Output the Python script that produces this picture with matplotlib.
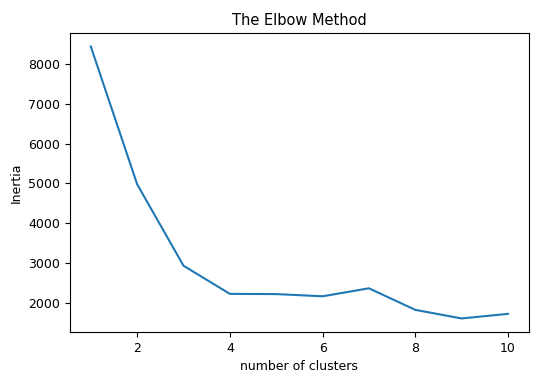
import matplotlib
matplotlib.use('Agg')
import matplotlib.pyplot as plt

# number of clusters and inertia values
clusters = [1, 2, 3, 4, 5, 6, 7, 8, 9, 10]
inertia = [8430, 4980, 2940, 2235, 2230, 2175, 2375, 1835, 1620, 1735]

fig = plt.figure(figsize=(5.38, 3.87), dpi=100)
ax = fig.add_axes([0.130, 0.142, 0.853, 0.773])
ax.plot(clusters, inertia, color='#1f77b4', linewidth=1.5)
ax.set_title('The Elbow Method', fontsize=10.5)
ax.set_xlabel('number of clusters', fontsize=9)
ax.set_ylabel('Inertia', fontsize=9)
ax.tick_params(labelsize=9)

plt.savefig('out.png', dpi=100)
